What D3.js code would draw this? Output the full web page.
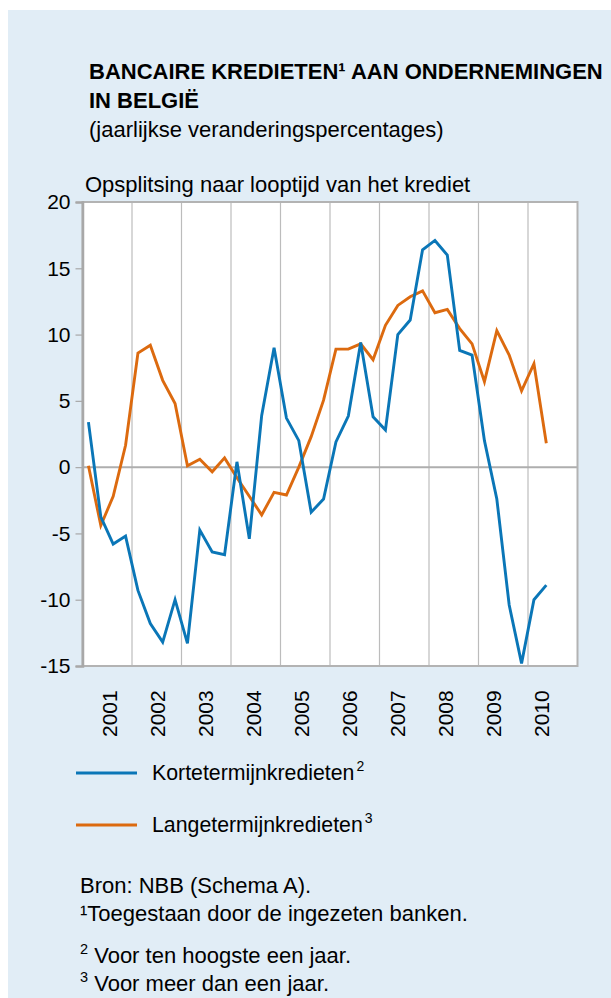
<!DOCTYPE html>
<html lang="nl">
<head>
	<meta charset="UTF-8">
	<title>Bancaire kredieten aan ondernemingen in België</title>
	<script src="https://cdn.jsdelivr.net/npm/d3@7/dist/d3.min.js"></script>
	<style>
		html, body { margin: 0; padding: 0; background: #fff; }
		svg { display: block; font-family: "Liberation Sans", Arial, sans-serif; }
	</style>
</head>
<body>
	<div id="container"></div>

	<script>

			// kwartaaldata 2001 K1 - 2010 K2
			var quarters = [];
			for (var yr = 2001; yr <= 2010; yr++) {
				for (var q = 1; q <= 4; q++) {
					if (yr === 2010 && q > 2) break;
					quarters.push({ year: yr, q: q });
				}
			}

			var kortetermijn = [3.4, -3.75, -5.8, -5.2, -9.3, -11.8, -13.2, -10.0, -13.3, -4.75,
				-6.4, -6.6, 0.4, -5.4, 3.9, 9.0, 3.7, 2.0, -3.4, -2.4,
				1.9, 3.85, 9.4, 3.8, 2.8, 10.0, 11.1, 16.4, 17.1, 16.0,
				8.8, 8.45, 2.0, -2.4, -10.4, -14.8, -10.0, -8.9];

			var langetermijn = [0.1, -4.4, -2.2, 1.65, 8.6, 9.2, 6.55, 4.8, 0.1, 0.6,
				-0.35, 0.7, -0.8, -2.2, -3.6, -1.9, -2.1, 0.0, 2.3, 5.05,
				8.9, 8.9, 9.3, 8.1, 10.7, 12.2, 12.85, 13.3, 11.65, 11.9,
				10.45, 9.3, 6.45, 10.3, 8.45, 5.75, 7.8, 1.8];

			var years = d3.range(2001, 2011);
			var yTicks = [-15, -10, -5, 0, 5, 10, 15, 20];

			var blue = "#0a76b7";
			var orange = "#dc6a0f";
			var gridColor = "#bcbcbc";
			var fontSize = 22;

			var width = 611;
			var height = 998;

			var svg = d3.select("#container").append("svg")
					.attr("width", width)
					.attr("height", height);

			svg.append("rect")
				.attr("x", 8)
				.attr("y", 10)
				.attr("width", width - 8)
				.attr("height", height - 10)
				.attr("fill", "#e1edf6");

			// titels
			var title = svg.append("text")
				.attr("x", 89)
				.attr("y", 79)
				.attr("font-size", fontSize)
				.attr("font-weight", "bold")
				.attr("fill", "#000");
			title.append("tspan").text("BANCAIRE KREDIETEN\u00b9 AAN ONDERNEMINGEN");
			title.append("tspan").attr("x", 89).attr("dy", 29).text("IN BELGI\u00cb");

			svg.append("text")
				.attr("x", 89)
				.attr("y", 137)
				.attr("font-size", fontSize)
				.text("(jaarlijkse veranderingspercentages)");

			svg.append("text")
				.attr("x", 85)
				.attr("y", 192)
				.attr("font-size", fontSize)
				.text("Opsplitsing naar looptijd van het krediet");

			// grafiek
			var x = d3.scaleLinear()
				.domain([2001, 2011])
				.range([82.5, 577.5]);

			var y = d3.scaleLinear()
				.domain([-15, 20])
				.range([666, 202]);

			function qx(d) {
				return x(d.year + (d.q - 1) / 4 + 0.12);
			}

			var g = svg.append("g");

			g.append("rect")
				.attr("x", x(2001))
				.attr("y", y(20))
				.attr("width", x(2011) - x(2001))
				.attr("height", y(-15) - y(20))
				.attr("fill", "#fff");

			g.selectAll(".grid")
				.data(d3.range(2002, 2011))
				.enter().append("line")
				.attr("class", "grid")
				.attr("x1", function(d){ return x(d); })
				.attr("x2", function(d){ return x(d); })
				.attr("y1", y(20))
				.attr("y2", y(-15))
				.attr("stroke", gridColor)
				.attr("stroke-width", 1.2);

			g.append("line")
				.attr("x1", x(2001))
				.attr("x2", x(2011))
				.attr("y1", y(0))
				.attr("y2", y(0))
				.attr("stroke", "#aeaeae")
				.attr("stroke-width", 2);

			g.append("rect")
				.attr("x", x(2001))
				.attr("y", y(20))
				.attr("width", x(2011) - x(2001))
				.attr("height", y(-15) - y(20))
				.attr("fill", "none")
				.attr("stroke", "#b3b3b3")
				.attr("stroke-width", 2);

			var yAxis = d3.axisLeft(y)
				.tickValues(yTicks)
				.tickFormat(function(d){ return String(d); })
				.tickSize(7)
				.tickPadding(5);

			var ya = g.append("g")
				.attr("transform", "translate(" + x(2001) + ",0)")
				.call(yAxis);
			ya.select(".domain").attr("stroke", "#a8a8a8").attr("stroke-width", 2.5);
			ya.selectAll(".tick line").attr("stroke", "#a8a8a8").attr("stroke-width", 1.2);
			ya.selectAll(".tick text")
				.attr("font-size", 21)
				.attr("font-family", "Liberation Sans, Arial, sans-serif")
				.attr("fill", "#000");

			var line = d3.line()
				.x(function(d, i){ return qx(quarters[i]); })
				.y(function(d){ return y(d); });

			g.append("path")
				.datum(langetermijn)
				.attr("d", line)
				.attr("fill", "none")
				.attr("stroke", orange)
				.attr("stroke-width", 2.9)
				.attr("stroke-linejoin", "miter");

			g.append("path")
				.datum(kortetermijn)
				.attr("d", line)
				.attr("fill", "none")
				.attr("stroke", blue)
				.attr("stroke-width", 2.9)
				.attr("stroke-linejoin", "miter");

			// jaarlabels
			var labelX = d3.scalePoint()
				.domain(years)
				.range([109, 541]);

			g.selectAll(".year")
				.data(years)
				.enter().append("text")
				.attr("class", "year")
				.attr("transform", function(d){ return "translate(" + (labelX(d) + 7.5) + ",737) rotate(-90)"; })
				.attr("font-size", 21)
				.text(function(d){ return d; });

			// legende
			var legend = [
				{ label: "Kortetermijnkredieten", sup: "2", color: blue },
				{ label: "Langetermijnkredieten", sup: "3", color: orange }
			];

			var lg = svg.selectAll(".legend")
				.data(legend)
				.enter().append("g")
				.attr("class", "legend")
				.attr("transform", function(d, i){ return "translate(0," + (773 + i * 52) + ")"; });

			lg.append("line")
				.attr("x1", 76)
				.attr("x2", 137)
				.attr("stroke", function(d){ return d.color; })
				.attr("stroke-width", 3);

			var lt = lg.append("text")
				.attr("x", 152)
				.attr("y", 7)
				.attr("font-size", 21.3);
			lt.append("tspan").text(function(d){ return d.label; });
			lt.append("tspan")
				.attr("font-size", 14)
				.attr("dy", -9)
				.attr("dx", 2)
				.text(function(d){ return d.sup; });

			// voetnoten
			var notes = [
				{ sup: "", text: "Bron: NBB (Schema A).", y: 893 },
				{ sup: "", text: "\u00b9Toegestaan door de ingezeten banken.", y: 921 },
				{ sup: "2", text: " Voor ten hoogste een jaar.", y: 963 },
				{ sup: "3", text: " Voor meer dan een jaar.", y: 991 }
			];

			var nt = svg.selectAll(".note")
				.data(notes)
				.enter().append("text")
				.attr("class", "note")
				.attr("x", 80)
				.attr("y", function(d){ return d.y; })
				.attr("font-size", fontSize);
			nt.append("tspan")
				.attr("font-size", 14.5)
				.attr("dy", function(d){ return d.sup ? -9 : 0; })
				.text(function(d){ return d.sup; });
			nt.append("tspan")
				.attr("dy", function(d){ return d.sup ? 9 : 0; })
				.text(function(d){ return d.text; });

	</script>
</body>
</html>
